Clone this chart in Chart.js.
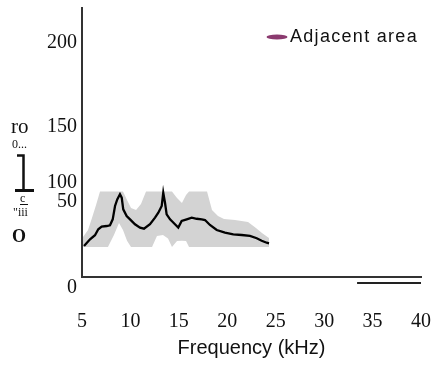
<!DOCTYPE html>
<html>
<head>
<meta charset="utf-8">
<script src="https://cdn.jsdelivr.net/npm/chart.js@4"></script>
<style>
  html, body { margin: 0; padding: 0; background: #fff; }
  #wrap { width: 439px; height: 368px; }
</style>
</head>
<body>
<div id="wrap"><canvas id="freqChart" width="439" height="368"></canvas></div>
<script>
// mean trace (kHz, value)
const freqKHz = [5.21, 5.83, 6.34, 6.68, 7.03, 7.55, 7.89, 8.17, 8.41, 8.64, 8.92, 9.10, 9.26, 9.61, 9.96,
    10.47, 10.99, 11.40, 12.02, 12.54, 12.88, 13.23, 13.39, 13.57, 13.74, 14.09, 14.60, 14.94, 15.29,
    15.81, 16.33, 16.84, 17.36, 17.70, 18.21, 18.91, 19.76, 20.62, 21.49, 22.34, 23.04, 23.55, 24.07, 24.31];
const meanValue = [26.5, 32.2, 35.7, 40.8, 43.0, 43.6, 44.2, 49.3, 60.7, 66.4, 70.7, 67.8, 57.9, 52.2, 49.3,
    45.1, 42.2, 41.3, 45.1, 50.7, 55.0, 60.7, 72.1, 63.5, 53.6, 49.3, 45.1, 42.2, 47.9,
    49.3, 50.7, 49.8, 49.3, 48.7, 44.5, 40.2, 37.9, 36.5, 35.9, 35.1, 33.1, 31.0, 29.3, 28.8];

// grey spread band
const bandFreq = [5.10, 5.62, 6.03, 6.45, 6.86, 7.68, 8.30, 8.82, 9.23, 9.65, 10.06, 10.58, 11.09, 11.61,
    12.23, 12.74, 13.36, 13.88, 14.29, 14.81, 15.32, 15.74, 16.05, 16.67, 17.91, 18.42, 19.04, 19.66,
    20.80, 22.14, 22.96, 23.58, 24.31];
const bandUpper = [34.2, 40.2, 50.4, 61.6, 73, 73, 73, 73, 73, 65.8, 59.0, 57.3, 62.4, 73,
    73, 73, 73, 73, 73, 67.5, 63.3, 70.1, 73, 73, 73, 57.3, 52.2, 49.6,
    48.7, 47.0, 41.9, 37.6, 33.3];
const bandLower = [25.6, 25.6, 25.6, 25.6, 25.6, 25.6, 35.9, 46.2, 40.2, 31.0, 25.6, 25.6, 25.6, 25.6,
    25.6, 35.0, 36.0, 33.0, 25.6, 30.8, 31.0, 30.8, 25.6, 25.6, 25.6, 25.6, 25.6, 25.6,
    25.6, 25.6, 25.6, 25.6, 25.6];

// y tick positions and the labels printed there
const yTickValues = [0, 73.5, 90.0, 137.9, 209.7];
const yTickLabels = ['0', '50', '100', '150', '200'];

const legendLabel = 'Adjacent area';
const legendColor = '#8b3a6f';

const toPoints = (xs, ys) => xs.map((x, i) => ({x: x, y: ys[i]}));

// legend entry inside the plot + odd leftovers around the axes
const extrasPlugin = {
    id: 'extras',
    afterDraw(chart) {
        const c = chart.ctx;
        const area = chart.chartArea;
        const xs = chart.scales.x;
        c.save();

        // legend: purple lozenge then the label
        c.fillStyle = legendColor;
        c.beginPath();
        c.ellipse(area.right - 144, area.top + 29, 10.5, 2.6, 0, 0, Math.PI * 2);
        c.fill();
        c.fillStyle = '#111';
        c.textBaseline = 'middle';
        c.font = '18px "Liberation Sans"';
        c.letterSpacing = '1.3px';
        c.fillText(legendLabel, area.right - 131, area.top + 29);
        c.letterSpacing = '0px';

        // scraps of the side label
        c.textBaseline = 'alphabetic';
        c.font = '21px "Liberation Serif"';
        c.fillText('ro', 11, 133);
        c.font = '12px "Liberation Serif"';
        c.fillText('0...', 12, 148);
        c.fillText('c', 20, 202);
        c.fillText('"iii', 13, 216);
        c.font = 'bold 18px "Liberation Serif"';
        c.fillText('O', 12, 242);

        c.strokeStyle = '#111';
        c.lineWidth = 2.5;
        c.beginPath();
        c.moveTo(17, 155.5);
        c.lineTo(23.5, 155.5);
        c.lineTo(23.5, 190);
        c.stroke();
        c.lineWidth = 3;
        c.beginPath();
        c.moveTo(15, 190.5);
        c.lineTo(34, 190.5);
        c.stroke();
        c.lineWidth = 1;
        c.beginPath();
        c.moveTo(20, 204.5);
        c.lineTo(28, 204.5);
        c.stroke();

        // short second rule under the x axis
        c.strokeStyle = '#222';
        c.lineWidth = 2;
        c.beginPath();
        c.moveTo(xs.getPixelForValue(33.4), area.bottom + 6);
        c.lineTo(xs.getPixelForValue(40), area.bottom + 6);
        c.stroke();
        c.restore();
    }
};

const ctx = document.getElementById('freqChart').getContext('2d');

const freqChart = new Chart(ctx, {
    type: 'line',
    data: {
        datasets: [
            {
                label: 'Mean',
                data: toPoints(freqKHz, meanValue),
                borderColor: '#000',
                borderWidth: 2.3,
                pointRadius: 0,
                tension: 0,
                fill: false
            },
            {
                label: 'Upper',
                data: toPoints(bandFreq, bandUpper),
                borderColor: 'rgba(0,0,0,0)',
                borderWidth: 0,
                pointRadius: 0,
                backgroundColor: '#d3d3d3',
                fill: '+1'
            },
            {
                label: 'Lower',
                data: toPoints(bandFreq, bandLower),
                borderColor: 'rgba(0,0,0,0)',
                borderWidth: 0,
                pointRadius: 0,
                fill: false
            }
        ]
    },
    options: {
        responsive: false,
        animation: false,
        layout: { padding: { top: 8, right: 18, bottom: 0, left: 0 } },
        scales: {
            x: {
                type: 'linear',
                min: 5,
                max: 40,
                // tick marks hidden, their length just keeps the labels low
                grid: { display: false, drawTicks: true, tickLength: 30 },
                border: { display: true, color: '#333', width: 2 },
                ticks: {
                    stepSize: 5,
                    padding: 3,
                    color: '#111',
                    font: { family: '"Liberation Serif"', size: 20 }
                },
                title: {
                    display: true,
                    text: 'Frequency (kHz)',
                    color: '#111',
                    font: { family: '"Liberation Sans"', size: 20 },
                    padding: { top: 0, bottom: 8 }
                },
                afterFit: (scale) => { scale.height = 91; }
            },
            y: {
                min: 0,
                max: 230,
                grid: { display: false, drawTicks: true, tickLength: 5 },
                border: { display: true, color: '#333', width: 2 },
                afterBuildTicks: (scale) => {
                    scale.ticks = yTickValues.map(v => ({ value: v }));
                },
                afterFit: (scale) => { scale.width = 82; },
                ticks: {
                    autoSkip: false,
                    padding: 0,
                    labelOffset: 11, // labels sit a little under their marks
                    color: '#111',
                    font: { family: '"Liberation Serif"', size: 20, lineHeight: 0.8 },
                    callback: (value, index) => yTickLabels[index]
                }
            }
        },
        plugins: {
            legend: { display: false },
            tooltip: { enabled: false }
        }
    },
    plugins: [extrasPlugin]
});
</script>
</body>
</html>
